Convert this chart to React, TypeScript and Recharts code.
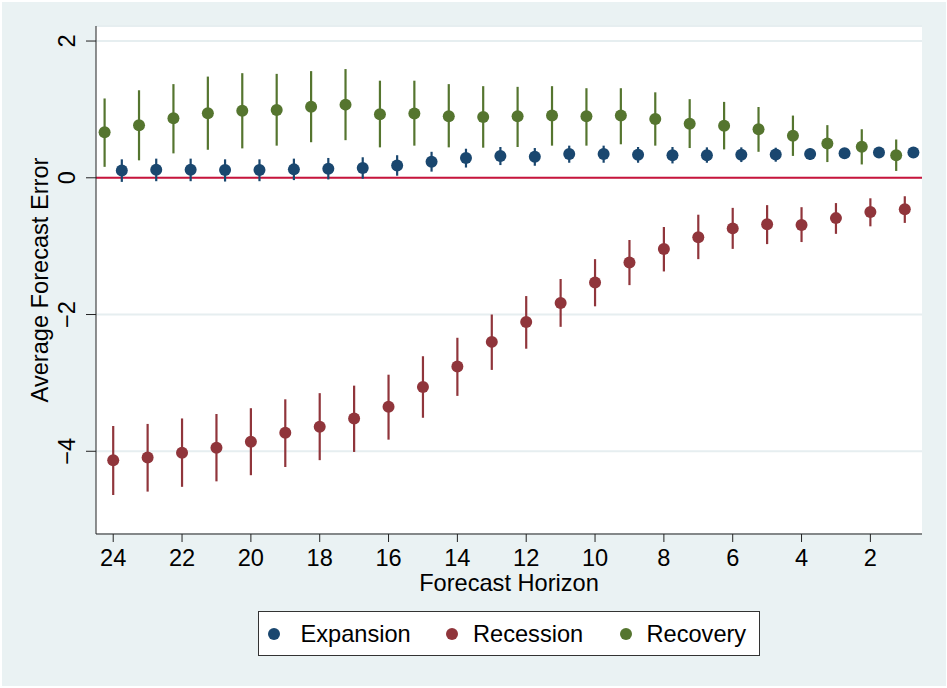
import {
  ScatterChart,
  Scatter,
  XAxis,
  YAxis,
  CartesianGrid,
  ReferenceLine,
  ErrorBar,
} from 'recharts';

const horizons = [24, 23, 22, 21, 20, 19, 18, 17, 16, 15, 14, 13, 12, 11, 10, 9, 8, 7, 6, 5, 4, 3, 2, 1];

const expansionMean = [0.108, 0.117, 0.117, 0.113, 0.113, 0.123, 0.132, 0.142, 0.18, 0.235, 0.29, 0.318, 0.307, 0.347, 0.347, 0.337, 0.33, 0.33, 0.337, 0.34, 0.347, 0.36, 0.37, 0.37];
const expansionLow = [-0.06, -0.05, -0.05, -0.055, -0.05, -0.034, -0.024, -0.014, 0.03, 0.09, 0.15, 0.186, 0.176, 0.22, 0.22, 0.22, 0.21, 0.22, 0.23, 0.235, 0.26, 0.29, 0.31, 0.31];
const expansionHigh = [0.27, 0.28, 0.28, 0.27, 0.27, 0.28, 0.29, 0.3, 0.33, 0.38, 0.425, 0.45, 0.435, 0.47, 0.47, 0.45, 0.45, 0.445, 0.445, 0.44, 0.43, 0.43, 0.43, 0.43];

const recessionMean = [-4.13, -4.09, -4.02, -3.95, -3.86, -3.73, -3.64, -3.52, -3.35, -3.06, -2.76, -2.4, -2.11, -1.83, -1.53, -1.24, -1.04, -0.87, -0.74, -0.68, -0.69, -0.59, -0.5, -0.46];
const recessionLow = [-4.64, -4.59, -4.52, -4.44, -4.35, -4.23, -4.13, -4.01, -3.83, -3.51, -3.19, -2.81, -2.5, -2.18, -1.88, -1.57, -1.37, -1.19, -1.04, -0.97, -0.94, -0.82, -0.71, -0.66];
const recessionHigh = [-3.63, -3.6, -3.52, -3.455, -3.37, -3.24, -3.15, -3.04, -2.88, -2.61, -2.34, -2.0, -1.73, -1.48, -1.19, -0.91, -0.72, -0.54, -0.44, -0.4, -0.43, -0.37, -0.3, -0.27];

const recoveryMean = [0.665, 0.767, 0.87, 0.943, 0.98, 0.99, 1.04, 1.07, 0.93, 0.94, 0.9, 0.89, 0.9, 0.91, 0.9, 0.91, 0.86, 0.79, 0.76, 0.71, 0.615, 0.5, 0.455, 0.33];
const recoveryLow = [0.16, 0.255, 0.357, 0.41, 0.43, 0.47, 0.52, 0.55, 0.445, 0.47, 0.445, 0.44, 0.45, 0.47, 0.47, 0.49, 0.47, 0.435, 0.415, 0.38, 0.32, 0.23, 0.195, 0.1];
const recoveryHigh = [1.16, 1.28, 1.37, 1.48, 1.53, 1.52, 1.56, 1.59, 1.42, 1.42, 1.37, 1.34, 1.33, 1.34, 1.31, 1.31, 1.25, 1.15, 1.11, 1.035, 0.91, 0.77, 0.71, 0.56];

const xTicks = [24, 22, 20, 18, 16, 14, 12, 10, 8, 6, 4, 2];
const yTicks = [-4, -2, 0, 2];

const FONT = '"Liberation Sans", Arial, Helvetica, sans-serif';
const FS = 23.6;
const NAVY = '#1A476F';
const MAROON = '#90353B';
const GREEN = '#55752F';

function build(mean: number[], low: number[], high: number[], shift: number) {
  return horizons.map((h, i) => ({
    x: h + shift,
    y: mean[i],
    err: [mean[i] - low[i], high[i] - mean[i]],
  }));
}

const expansion = build(expansionMean, expansionLow, expansionHigh, -0.25);
const recession = build(recessionMean, recessionLow, recessionHigh, 0);
const recovery = build(recoveryMean, recoveryLow, recoveryHigh, 0.25);

const fmt = (v: number) => String(v).replace('-', '\u2212');

// eslint-disable-next-line @typescript-eslint/no-explicit-any
const YTick = (props: any) => {
  const { x, y, payload } = props;
  return (
    <text
      x={x}
      y={y}
      transform={`rotate(-90 ${x} ${y})`}
      textAnchor="middle"
      fontSize={FS}
      fontFamily={FONT}
      fill="#000"
    >
      {fmt(payload.value)}
    </text>
  );
};

const dot = (color: string) =>
  // eslint-disable-next-line @typescript-eslint/no-explicit-any
  (props: any) => <circle cx={props.cx} cy={props.cy} r={6} fill={color} />;

const legendItems = [
  { name: 'Expansion', color: NAVY, dx: 15.6, tx: 42 },
  { name: 'Recession', color: MAROON, dx: 193.6, tx: 214.5 },
  { name: 'Recovery', color: GREEN, dx: 367.6, tx: 388 },
];

export default function App() {
  return (
    <div style={{ position: 'absolute', left: 0, top: 0, width: 947, height: 688, background: '#fff' }}>
      <div style={{ position: 'absolute', left: 2, top: 2, width: 944, height: 684, background: '#EAF2F3' }} />
      <div style={{ position: 'absolute', left: 0, top: 0 }}>
        <ScatterChart width={947} height={688} margin={{ top: 26, right: 25, left: 36, bottom: 94 }}>
          <CartesianGrid fill="#fff" vertical={false} stroke="#E6EEF0" strokeWidth={2} />
          <XAxis
            type="number"
            dataKey="x"
            domain={[0.5, 24.5]}
            reversed
            ticks={xTicks}
            allowDataOverflow
            height={60}
            tickSize={8}
            tickMargin={7}
            stroke="#222"
            tick={{ fill: '#000', fontSize: FS, fontFamily: FONT }}
            label={{
              // eslint-disable-next-line @typescript-eslint/no-explicit-any
              content: (p: any) => (
                <text
                  x={p.viewBox.x + p.viewBox.width / 2}
                  y={p.viewBox.y + 57}
                  textAnchor="middle"
                  fontSize={FS}
                  fontFamily={FONT}
                  fill="#000"
                >
                  Forecast Horizon
                </text>
              ),
            }}
          />
          <YAxis
            type="number"
            dataKey="y"
            domain={[-5.21, 2.22]}
            ticks={yTicks}
            allowDataOverflow
            width={60}
            tickSize={10}
            tickMargin={11}
            stroke="#222"
            tick={<YTick />}
            label={{
              // eslint-disable-next-line @typescript-eslint/no-explicit-any
              content: (p: any) => {
                const cy = p.viewBox.y + p.viewBox.height / 2;
                return (
                  <text
                    x={47.5}
                    y={cy}
                    transform={`rotate(-90 47.5 ${cy})`}
                    textAnchor="middle"
                    fontSize={FS}
                    fontFamily={FONT}
                    fill="#000"
                  >
                    Average Forecast Error
                  </text>
                );
              },
            }}
          />
          <ReferenceLine y={0} stroke="#C8143C" strokeWidth={2} />
          <Scatter name="Expansion" data={expansion} shape={dot(NAVY)} isAnimationActive={false}>
            <ErrorBar dataKey="err" direction="y" width={0} stroke={NAVY} strokeWidth={2.2} />
          </Scatter>
          <Scatter name="Recession" data={recession} shape={dot(MAROON)} isAnimationActive={false}>
            <ErrorBar dataKey="err" direction="y" width={0} stroke={MAROON} strokeWidth={2.2} />
          </Scatter>
          <Scatter name="Recovery" data={recovery} shape={dot(GREEN)} isAnimationActive={false}>
            <ErrorBar dataKey="err" direction="y" width={0} stroke={GREEN} strokeWidth={2.2} />
          </Scatter>
        </ScatterChart>
      </div>
      <div
        style={{
          position: 'absolute',
          left: 257.5,
          top: 611,
          width: 500,
          height: 43,
          background: '#fff',
          border: '1px solid #333',
          fontFamily: FONT,
          fontSize: FS,
          color: '#000',
        }}
      >
        {legendItems.map((it) => (
          <div key={it.name}>
            <div
              style={{
                position: 'absolute',
                left: it.dx - 6,
                top: 22.3 - 6,
                width: 12,
                height: 12,
                borderRadius: 6,
                background: it.color,
              }}
            />
            <div style={{ position: 'absolute', left: it.tx, top: 9, lineHeight: '26px', whiteSpace: 'nowrap' }}>
              {it.name}
            </div>
          </div>
        ))}
      </div>
    </div>
  );
}
